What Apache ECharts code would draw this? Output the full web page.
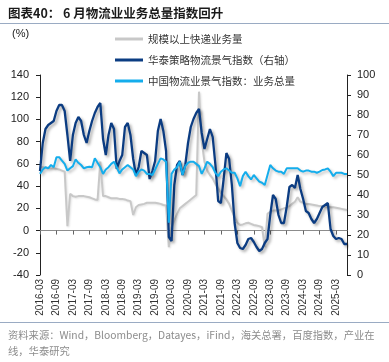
<!DOCTYPE html>
<html>
<head>
<meta charset="utf-8">
<script src="https://cdn.jsdelivr.net/npm/echarts/dist/echarts.min.js"></script>
<style>
html,body{margin:0;padding:0;background:#fff;}
#chart{width:389px;height:362px;}
</style>
</head>
<body>
<div id="chart"></div>
<script>
// Categories: monthly, 2016-03 .. 2025-07
var startYear = 2016, startMonth = 3, monthCount = 113;
var categories = [];
for (var k = 0; k < monthCount; k++) {
  var m = startMonth - 1 + k;
  var y = startYear + Math.floor(m / 12);
  var mm = (m % 12) + 1;
  categories.push(y + '-' + (mm < 10 ? '0' + mm : mm));
}

var seriesNames = ['规模以上快递业务量', '华泰策略物流景气指数（右轴）', '中国物流业景气指数：业务总量'];

// 规模以上快递业务量 (left axis, %)
var expressGrowth = [
  57,57,56.5,56.5,56,56,55.5,55,54,53,
  4,33,31,30.5,31,31,31,30.5,30,29,
  28,27.5,62,31,31,30,29,29,29,28.5,
  28.5,28,27,26.5,14,21,23,23.5,24,25,
  25,25,25,24.5,24,23,22.5,-15,3,9,
  15,20,22,24,26,28,30,32,125,80,
  62,54,50,47,42,38,34,31,28,24,
  18,12,7,5,5.5,6.5,7,6,5,4.5,
  4,3,-15,15,17,18,18,18,19,20,
  21,22,24,26,30,26,25,24,24,23.5,
  23,22.5,22,22,21.5,21.5,21,21,20.5,20,
  19.5,19,18.5
];

// 华泰策略物流景气指数 (right axis)
var htLogisticsIndex = [
  52,66,73,75,76,77,82,85,85,82,
  70,57,70,76,79,77,70,66,72,77,
  81,84,86,68,60,70,76,73,53,57,
  60,74,76,70,58,50,54,62,61,60,
  48,52,57,72,78,72,62,19,17,45,
  55,57,50,55,66,74,78,81,83,71,
  63,68,73,69,55,37,36,48,61,58,
  45,26,16,13.5,13,15,18,18.5,16.5,14,
  12,13,16,18,30,40,38,30,26,26,
  34,44,45,43.5,50,43,38,32,31,28,
  26,28,31,34,35,36,23,19.5,18,18.5,
  18,15.5,15.5
];

// 中国物流业景气指数：业务总量 (left axis)
var lpiVolume = [
  51,55,57,56,59,57,66,66,63,60,
  54,56,58,64,61,59,56,57,57.5,57,
  65,61,57,51,55,57,60,62,57,51.5,
  55,57,59,57,55,49,53,55,54,51,
  51,50,55,60,65,64,62,7,51,55,
  57,62,50,58,61,62,62,60,58,51,
  56,62,60,57,52,49,53,55,56,54,
  52,52,47,40,49,53,49,46,50,47,
  44,43,41,50,59,56,54,53,53,51,
  56,56,56,56,56,54,53,54,54,53,
  53,52,53,54.5,55,56,53,49,52,52,
  52,51,51
];

var titleText = '图表40： 6 月物流业业务总量指数回升';
var sourceLine1 = '资料来源：Wind，Bloomberg，Datayes，iFind，海关总署，百度指数，产业在';
var sourceLine2 = '线，华泰研究';

var cjk = '"Noto Sans CJK SC", sans-serif';
var latin = '"Liberation Sans", Arial, sans-serif';

var chart = echarts.init(document.getElementById('chart'), null, {renderer: 'canvas'});
chart.setOption({
  animation: false,
  backgroundColor: '#fff',
  grid: {left: 40, right: 42, top: 75, bottom: 87, containLabel: false},
  legend: {
    orient: 'vertical',
    left: 110, top: 27,
    icon: 'rect',
    itemGap: 7, itemWidth: 28, itemHeight: 3,
    textStyle: {fontSize: 10.5, color: '#333', fontFamily: cjk, lineHeight: 14},
    data: seriesNames
  },
  xAxis: [{
    type: 'category', data: categories, boundaryGap: false,
    axisLine: {onZero: true, onZeroAxisIndex: 0, lineStyle: {color: '#8c8c8c', width: 1}},
    axisTick: {interval: 5, length: 4, lineStyle: {color: '#666'}},
    axisLabel: {show: false},
    splitLine: {show: false}
  }, {
    type: 'category', data: categories, boundaryGap: false, position: 'bottom',
    axisLine: {show: false, onZero: false},
    axisTick: {show: false},
    axisLabel: {interval: 5, rotate: 90, fontSize: 10, margin: 4, color: '#333', fontFamily: latin},
    splitLine: {show: false}
  }],
  yAxis: [{
    type: 'value', min: -40, max: 140, interval: 20, position: 'left',
    axisLine: {show: true, lineStyle: {color: '#222'}},
    axisTick: {show: true, length: 4, inside: false, lineStyle: {color: '#222'}},
    axisLabel: {fontSize: 11, color: '#222', margin: 11, fontFamily: latin},
    splitLine: {show: false}
  }, {
    type: 'value', min: 0, max: 100, interval: 10, position: 'right',
    axisLine: {show: true, lineStyle: {color: '#222'}},
    axisTick: {show: true, length: 4, inside: false, lineStyle: {color: '#222'}},
    axisLabel: {fontSize: 11, color: '#222', margin: 10, fontFamily: latin},
    splitLine: {show: false}
  }],
  series: [{
    name: seriesNames[0], type: 'line', xAxisIndex: 0, yAxisIndex: 0,
    data: expressGrowth, symbol: 'none', z: 1,
    itemStyle: {color: '#c8c8c8'},
    lineStyle: {color: '#c8c8c8', width: 2, shadowColor: 'rgba(0,0,0,0.12)', shadowBlur: 2, shadowOffsetX: 1, shadowOffsetY: 1}
  }, {
    name: seriesNames[1], type: 'line', xAxisIndex: 0, yAxisIndex: 1,
    data: htLogisticsIndex, symbol: 'none', z: 2,
    itemStyle: {color: '#0b3c82'},
    lineStyle: {color: '#0b3c82', width: 2.3, shadowColor: 'rgba(0,0,0,0.35)', shadowBlur: 3, shadowOffsetX: 2, shadowOffsetY: 2}
  }, {
    name: seriesNames[2], type: 'line', xAxisIndex: 0, yAxisIndex: 0,
    data: lpiVolume, symbol: 'none', z: 3,
    itemStyle: {color: '#14adec'},
    lineStyle: {color: '#14adec', width: 2, shadowColor: 'rgba(0,0,0,0.25)', shadowBlur: 3, shadowOffsetX: 2, shadowOffsetY: 2}
  }],
  graphic: [
    {type: 'text', left: 8, top: 7, style: {text: titleText, font: 'bold 12.5px ' + cjk, fill: '#1a1a1a'}},
    {type: 'line', shape: {x1: 0, y1: 23.5, x2: 389, y2: 23.5}, style: {stroke: '#9aabc3', lineWidth: 1}},
    {type: 'text', left: 12, top: 28, style: {text: '(%)', font: '11px ' + latin, fill: '#222'}},
    {type: 'line', shape: {x1: 0, y1: 322.5, x2: 389, y2: 322.5}, style: {stroke: '#9aabc3', lineWidth: 1}},
    {type: 'text', left: 8, top: 330, style: {text: sourceLine1, font: '10.3px ' + cjk, fill: '#8c8c8c'}},
    {type: 'text', left: 8, top: 346, style: {text: sourceLine2, font: '10.3px ' + cjk, fill: '#8c8c8c'}}
  ]
});
</script>
</body>
</html>
